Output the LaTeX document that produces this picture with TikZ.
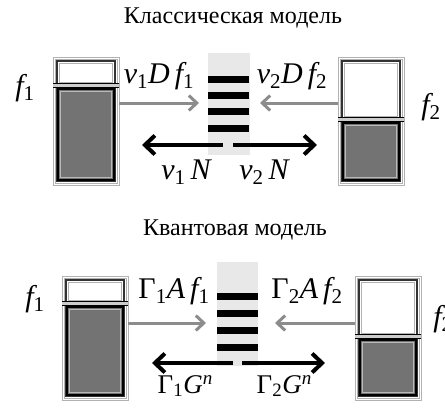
\documentclass[tikz,border=0pt]{standalone}
\usepackage{fontspec}
\setmainfont{Liberation Serif}
\usetikzlibrary{arrows.meta}
\tikzset{
  tankframe/.style={draw=gray!60, line width=0.8, fill=white, inner sep=0pt, rectangle},
  colbox/.style={fill=black!9, draw=none, inner sep=0pt, rectangle},
  barline/.style={line width=7, black},
  grayarr/.style={line width=3, draw=black!45, -{Straight Barb[length=8,width=15]}},
  blackarr/.style={line width=4, draw=black, -{Straight Barb[length=10,width=19]}},
  lab/.style={anchor=base, inner sep=0pt, font=\fontsize{30}{34}\selectfont},
  labs/.style={anchor=base, inner sep=0pt, font=\fontsize{27}{31}\selectfont},
  ttl/.style={inner sep=0pt, font=\fontsize{24}{28}\selectfont},
}
\newcommand\tank[6]{%
  \node[tankframe, minimum width={#4-#2}, minimum height={#5-#3}] (#1) at ({(#2+#4)/2},{(#3+#5)/2}) {};
  \draw[gray!60, line width=0.6] (#2+2,#3+2) rectangle (#4-2,#5-2);
  \draw[black!80, line width=1.6] (#2+4,#3+4) rectangle (#4-4,#5-4);
  \draw[gray!60, line width=0.8, fill=white] (#2+6.5,#3+6.5) rectangle (#4-6.5,#6-3);
  \fill[gray!40] (#2,#6-2) rectangle (#4,#6+2);
  \draw[black, line width=0.7] (#2,#6-2) -- (#4,#6-2) (#2,#6+2) -- (#4,#6+2);
  \draw[black, line width=1.6, fill=black!55] (#2+5,#6+4) rectangle (#4-5,#5-5);
  \draw[gray!55, line width=0.6] (#2+7.5,#6+6.5) rectangle (#4-7.5,#5-7.5);
}
\newcommand\mi[1]{{\itshape #1}}
\newcommand\sbs[1]{\textsubscript{#1}}
\newcommand\sps[1]{\raisebox{0.32em}{\fontsize{19}{21}\selectfont\itshape #1}}
\begin{document}
\begin{tikzpicture}[x=1pt,y=-1pt]
\useasboundingbox (0,0) rectangle (445,410);
% ---------- classical model ----------
\node[ttl] (t1) at (233,18) {Классическая модель};
\tank{L1}{53}{57}{119}{185}{85}
\tank{R1}{338}{57}{404}{185}{119}
\node[colbox, minimum width=42, minimum height=102] (col1) at (229,104) {};
\foreach \yy in {79,95,111,128} \draw[barline] (208,\yy) -- (249,\yy);
\coordinate (g1l) at (199,103);
\coordinate (g1r) at (260,103);
\draw[grayarr] (L1.east |- g1l) -- (g1l);
\draw[grayarr] (R1.west |- g1r) -- (g1r);
\coordinate (b1l) at (142,145);
\coordinate (b1r) at (317,145);
\coordinate (c1l) at (223,145);
\coordinate (c1r) at (233,145);
\draw[blackarr] (c1l) -- (b1l);
\draw[blackarr] (c1r) -- (b1r);
\node[lab] (f1a) at (25,95) {\mi{f}\sbs{1}};
\node[lab] (f2a) at (431,114) {\mi{f}\sbs{2}};
\node[lab] (la1) at (159,83) {\mi{ν}\sbs{1}\mi{D\,f}\sbs{1}};
\node[lab] (la2) at (292,83) {\mi{ν}\sbs{2}\mi{D\,f}\sbs{2}};
\node[lab] (lb1) at (186,179) {\mi{ν}\sbs{1}\,\mi{N}};
\node[lab] (lb2) at (264,179) {\mi{ν}\sbs{2}\,\mi{N}};
% ---------- quantum model ----------
\node[ttl] (t2) at (235,230) {Квантовая модель};
\tank{L2}{62}{276}{128}{400}{303}
\tank{R2}{355}{276}{421}{400}{336}
\node[colbox, minimum width=41, minimum height=104] (col2) at (237.5,314) {};
\foreach \yy in {296,313,330,347} \draw[barline] (217,\yy) -- (258,\yy);
\coordinate (g2l) at (206,323);
\coordinate (g2r) at (275,323);
\draw[grayarr] (L2.east |- g2l) -- (g2l);
\draw[grayarr] (R2.west |- g2r) -- (g2r);
\coordinate (b2l) at (152,363);
\coordinate (b2r) at (325,363);
\coordinate (c2l) at (233,363);
\coordinate (c2r) at (242,363);
\draw[blackarr] (c2l) -- (b2l);
\draw[blackarr] (c2r) -- (b2r);
\node[lab] (f1b) at (35,306) {\mi{f}\sbs{1}};
\node[lab] (f2b) at (443,326) {\mi{f}\sbs{2}};
\node[lab] (la3) at (174,298) {Γ\sbs{1}\mi{A\,f}\sbs{1}};
\node[lab] (la4) at (307,298) {Γ\sbs{2}\mi{A\,f}\sbs{2}};
\node[labs] (lb3) at (185,393) {Γ\sbs{1}\mi{G}\sps{n}};
\node[labs] (lb4) at (284,393) {Γ\sbs{2}\mi{G}\sps{n}};
\end{tikzpicture}
\end{document}
